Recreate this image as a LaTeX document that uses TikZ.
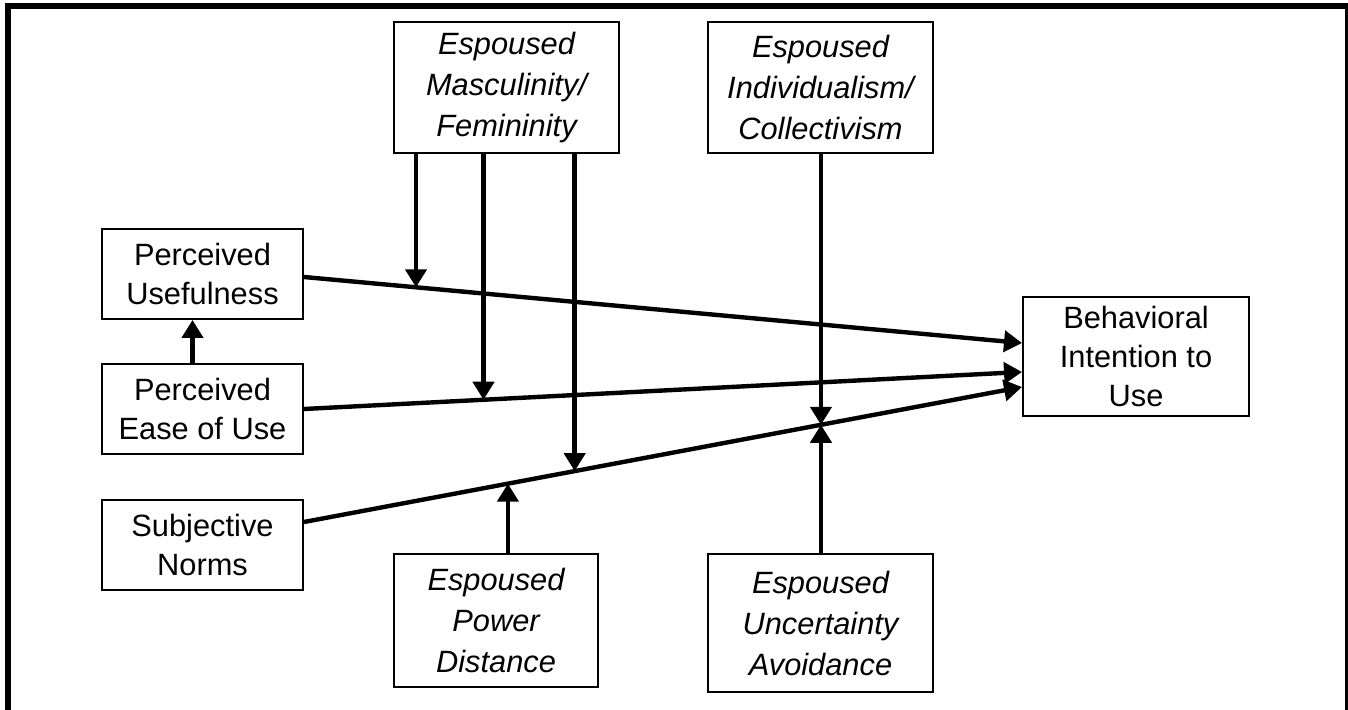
\documentclass[tikz,border=0pt]{standalone}
\usepackage{fontspec}
\setmainfont{Liberation Sans}
\usetikzlibrary{arrows.meta}

\tikzset{
  construct/.style={draw, line width=1pt, align=center, inner sep=0pt,
    font=\fontsize{15.4}{19.5}\selectfont},
  culture/.style={construct, font=\fontsize{15.4}{20.5}\selectfont\itshape},
  link/.style={line width=2.2pt, -{Triangle[length=9pt,width=10.5pt]}},
}

\begin{document}
\begin{tikzpicture}[x=0.5pt,y=-0.5pt]
\useasboundingbox (0,0) rectangle (1348,710);
\draw[line width=3pt] (8,730) -- (8,6) -- (1348,6) -- (1348,730);

\node[construct, minimum width=100.5pt, minimum height=45pt] (pu) at (202.5,274) {Perceived\\Usefulness};
\node[construct, minimum width=100.5pt, minimum height=45pt] (peou) at (202.5,409) {Perceived\\Ease of Use};
\node[construct, minimum width=100.5pt, minimum height=45pt] (sn) at (202.5,545) {Subjective\\Norms};
\node[construct, minimum width=113pt, minimum height=59.5pt] (bi) at (1136,356.5) {Behavioral\\Intention to\\Use};

\node[culture, minimum width=112.5pt, minimum height=65.5pt] (mf) at (506.5,87.5) {Espoused\\Masculinity/\\Femininity};
\node[culture, minimum width=112.5pt, minimum height=65.5pt] (ic) at (820.5,87.5) {Espoused\\Individualism/\\Collectivism};
\node[culture, minimum width=102pt, minimum height=66.5pt] (pd) at (496,620.5) {Espoused\\Power\\Distance};
\node[culture, minimum width=112.5pt, minimum height=69pt] (ua) at (820.5,623) {Espoused\\Uncertainty\\Avoidance};

\draw[link] ([yshift=-1.5pt]pu.east) -- coordinate[pos=0.156] (mf1) ([yshift=6.75pt]bi.west);
\draw[link] (peou.east) -- coordinate[pos=0.25] (mf2) ([yshift=-7.75pt]bi.west);
\draw[link] ([yshift=11.5pt]sn.east) -- coordinate[pos=0.377] (mf3) coordinate[pos=0.284] (pd1)
  coordinate[pos=0.72] (ic1) ([yshift=-15.25pt]bi.west);
\draw[link] ([xshift=-5pt]peou.north) -- ([xshift=-5pt]pu.south);

\draw[link] (mf.south -| mf1) -- (mf1);
\draw[link] (mf.south -| mf2) -- (mf2);
\draw[link] (mf.south -| mf3) -- (mf3);
\draw[link] (pd.north -| pd1) -- (pd1);
\draw[link] (ic.south -| ic1) -- (ic1);
\draw[link] (ua.north -| ic1) -- (ic1);
\end{tikzpicture}
\end{document}
